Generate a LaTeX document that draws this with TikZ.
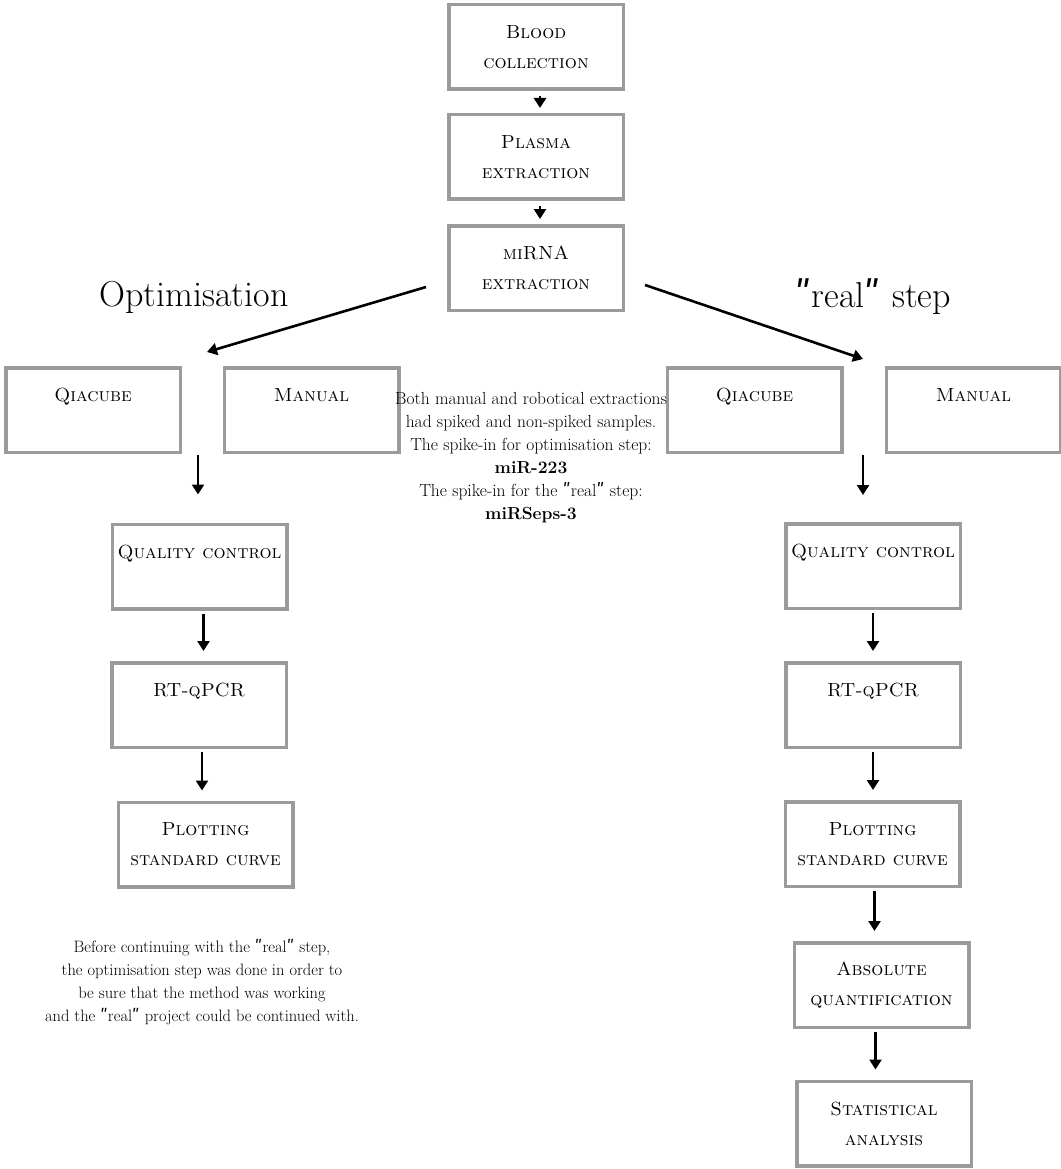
\documentclass[tikz,border=0pt]{standalone}
\usepackage{fontspec}
\newfontfamily\qfont{DejaVu Serif}
\newcommand{\dquote}{{\qfont ʺ}}
\usetikzlibrary{arrows.meta}
\definecolor{boxgray}{HTML}{9B9B9B}

\begin{document}
\begin{tikzpicture}[x=1pt,y=-1pt,
		box/.style={draw=boxgray, line width=3.5pt, minimum width=174.5pt, minimum height=84.5pt,
			inner sep=0pt, align=center, font=\fontsize{19}{30}\selectfont\scshape},
		flow/.style={-{Triangle[width=12pt,length=10pt]}, line width=2.6pt, shorten <=3pt, shorten >=10pt},
		fork/.style={flow, shorten <=0pt, shorten >=0pt},
		head/.style={font=\fontsize{36}{40}\selectfont},
		note/.style={align=center, font=\fontsize{17.5}{23}\selectfont}]
		\useasboundingbox (0,0) rectangle (1060,1169);
		\node [box] (bc) at (536,47) {Blood\\collection};
		\node [box] (pe) at (536,157) {Plasma\\extraction};
		\node [box] (me) at (536,268) {miRNA\\extraction};
		\node [head] (ho) at (194,297) {Optimisation};
		\node [head] (hr) at (873,297) {\dquote real\dquote{} step};
		\node [box] (qo) at (93,410) {Qiacube\\~};
		\node [box] (mo) at (311.5,410) {Manual\\~};
		\node [box] (qr) at (754.5,410) {Qiacube\\~};
		\node [box] (mr) at (973.5,410) {Manual\\~};
		\node [note] (nc) at (531,457.5) {Both manual and robotical extractions\\had spiked and non-spiked samples.\\The spike-in for optimisation step:\\\textbf{miR-223}\\The spike-in for the \dquote real\dquote{} step:\\\textbf{miRSeps-3}};
		\node [box] (qco) at (199.5,566.5) {Quality control\\~};
		\node [box] (rto) at (199,705) {RT-qPCR\\~};
		\node [box] (pso) at (205.5,844.5) {Plotting\\standard curve};
		\node [note, font=\fontsize{16.5}{23}\selectfont] (nb) at (202,982) {Before continuing with the \dquote real\dquote{} step,\\the optimisation step was done in order to\\be sure that the method was working\\and the \dquote real\dquote{} project could be continued with.};
		\node [box] (qcr) at (873,566) {Quality control\\~};
		\node [box] (rtr) at (873,705) {RT-qPCR\\~};
		\node [box] (psr) at (872.5,844) {Plotting\\standard curve};
		\node [box] (aq) at (881.5,985) {Absolute\\quantification};
		\node [box] (sa) at (884,1123.5) {Statistical\\analysis};
		\coordinate (gl) at (207,352);
		\coordinate (gr) at (863,359);
		\coordinate (lo) at (198,452);
		\coordinate (ro) at (863,452);
		\draw [flow, shorten <=5pt, shorten >=5pt] ([xshift=4pt]bc.south) -- ([xshift=4pt]pe.north);
		\draw [flow, shorten <=5pt, shorten >=5pt] ([xshift=4pt]pe.south) -- ([xshift=4pt]me.north);
		\draw [fork] ([shift={(-21,19)}]me.west) -- (gl);
		\draw [fork] ([shift={(20,17)}]me.east) -- (gr);
		\draw [flow, shorten >=28pt] (lo) -- (lo |- qco.north);
		\draw [flow, shorten >=27pt] (ro) -- (ro |- qcr.north);
		\draw [flow] ([xshift=4pt]qco.south) -- ([xshift=4pt]qco.south |- rto.north);
		\draw [flow] ([xshift=3pt]rto.south) -- ([xshift=3pt]rto.south |- pso.north);
		\draw [flow] (qcr.south) -- (qcr.south |- rtr.north);
		\draw [flow] (rtr.south) -- (rtr.south |- psr.north);
		\draw [flow] ([xshift=2pt]psr.south) -- ([xshift=2pt]psr.south |- aq.north);
		\draw [flow] ([xshift=-6pt]aq.south) -- ([xshift=-6pt]aq.south |- sa.north);
	\end{tikzpicture}
\end{document}
